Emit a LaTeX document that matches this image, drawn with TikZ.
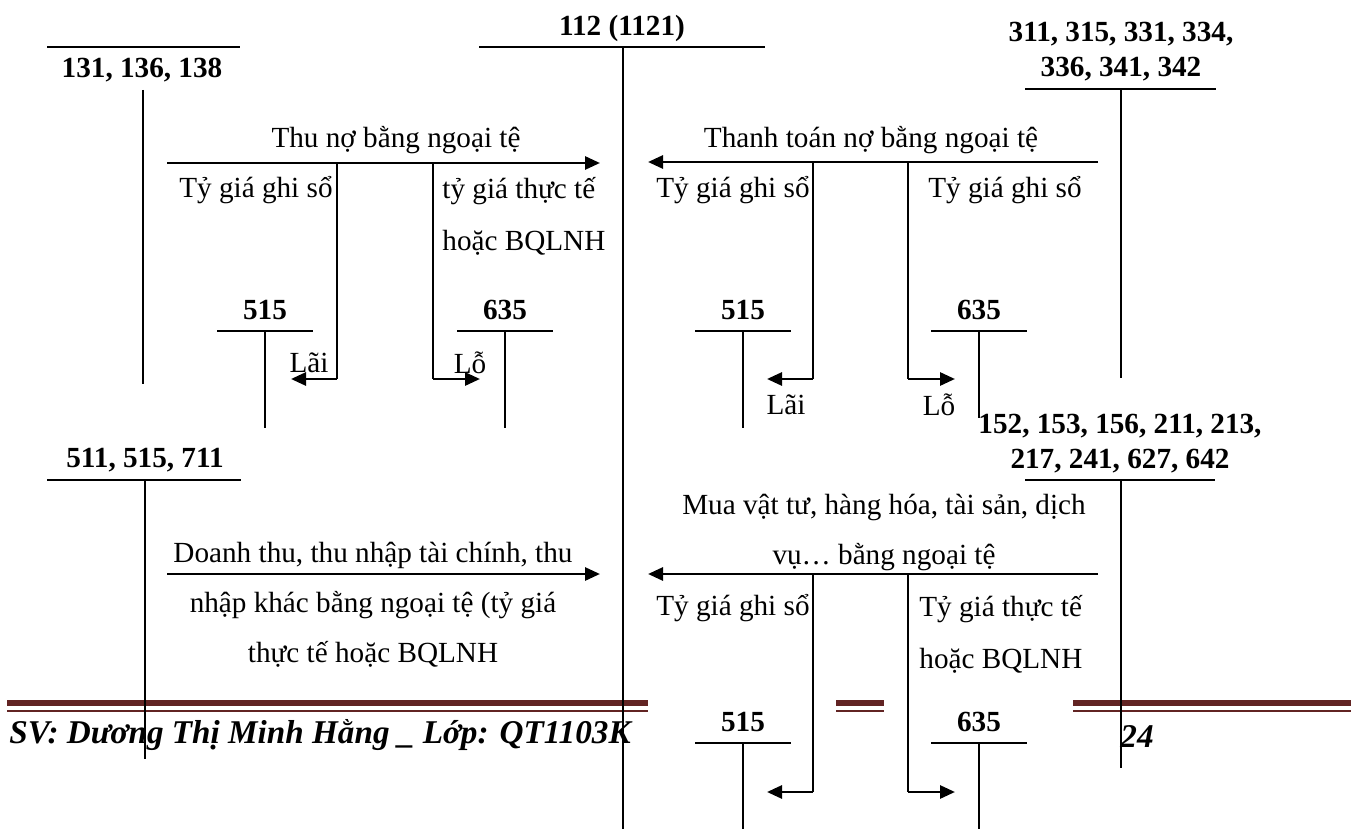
\documentclass[tikz,border=0pt]{standalone}
\usepackage{fontspec}
\setmainfont{Liberation Serif}
\usetikzlibrary{arrows.meta, positioning}
\definecolor{pieoscuro}{HTML}{622423}
\tikzset{
  every picture/.style={x=0.5pt, y=-0.5pt},
  cuenta/.style={font=\fontsize{14.6}{17.5}\selectfont\bfseries, inner sep=0pt, align=center},
  nota/.style={font=\fontsize{14.6}{25}\selectfont, inner sep=0pt, align=center},
  raya/.style={line width=1pt},
  eje/.style={line width=0.75pt},
  flecha/.style={-{Triangle[length=7.5pt, width=6.5pt]}, line width=1.4pt},
  pie/.style={font=\fontsize{16.6}{18}\selectfont\bfseries\itshape, inner sep=0pt},
}

\begin{document}
\begin{tikzpicture}
  \useasboundingbox (0,0) rectangle (1351,829);
  % footer of the page
  \foreach \a/\b in {7/648, 836/884, 1073/1351} {
    \fill[pieoscuro] (\a,700) rectangle (\b,706);
    \draw[pieoscuro, line width=0.8pt] (\a,711) -- (\b,711);
  }
  \node[pie, anchor=west] (sv) at (9,735) {SV: Dương Thị Minh Hằng \_ Lớp: QT1103K};
  \node[pie] (pag) at (1137,737) {24};
  % big accounts
  \node[cuenta] (c112) at (622,28) {112 (1121)};
  \draw[raya] (479,47) -- (765,47);
  \draw[eje] (623,47) -- (623,829);
  \node[cuenta] (c131) at (142,70) {131, 136, 138};
  \draw[raya] (47,47) -- (240,47);
  \draw[eje] (143,90) -- (143,384);
  \node[cuenta] (c311) at (1121,52) {311, 315, 331, 334,\\336, 341, 342};
  \draw[raya] (1025,89) -- (1216,89);
  \draw[eje] (1121,89) -- (1121,378);
  \node[cuenta] (c511) at (145,460) {511, 515, 711};
  \draw[raya] (47,480) -- (241,480);
  \draw[eje] (145,480) -- (145,759);
  \node[cuenta] (c152) at (1120,444) {152, 153, 156, 211, 213,\\217, 241, 627, 642};
  \draw[raya] (1025,480) -- (1215,480);
  \draw[eje] (1121,480) -- (1121,768);
  % small accounts 515 / 635
  \foreach \n/\x/\y/\yb/\lab in {a/265/310/428/515, b/505/310/428/635, c/743/310/428/515,
                                  d/979/310/418/635, e/743/722/829/515, f/979/722/829/635} {
    \node[cuenta] (t\n) at (\x,\y) {\lab};
    \draw[raya] (\x-48,\y+21) -- (\x+48,\y+21);
    \draw[eje] (\x,\y+21) -- (\x,\yb);
  }
  % main arrows
  \coordinate (u1) at (167,163); \coordinate (u2) at (600,163);
  \coordinate (v1) at (1098,162); \coordinate (v2) at (648,162);
  \coordinate (w1) at (167,574); \coordinate (w2) at (600,574);
  \coordinate (z1) at (1098,574); \coordinate (z2) at (648,574);
  \draw[flecha] (u1) -- (u2);
  \draw[flecha] (v1) -- (v2);
  \draw[flecha] (w1) -- (w2);
  \draw[flecha] (z1) -- (z2);
  % differences of exchange rate
  \foreach \n/\xa/\xb/\ya/\yb in {p/337/433/163/379, q/813/908/162/379, r/813/908/574/792} {
    \coordinate (\n a) at (\xa,\yb); \coordinate (\n b) at (\xb,\yb);
    \draw[eje] (\xa,\ya) -- (\n a);
    \draw[flecha] (\n a) -- (\xa-46,\yb);
    \draw[eje] (\xb,\ya) -- (\n b);
    \draw[flecha] (\n b) -- (\xb+47,\yb);
  }
  % texts
  \node[nota] (l1) at (396,140) {Thu nợ bằng ngoại tệ};
  \node[nota, anchor=east] (l2) at (333,190) {Tỷ giá ghi sổ};
  \node[nota, anchor=west, align=left, font=\fontsize{14.6}{26}\selectfont] (l3) at (442,216) {tỷ giá thực tế\\hoặc BQLNH};
  \node[nota] (l4) at (309,363) {Lãi};
  \node[nota] (l5) at (470,363) {Lỗ};
  \node[nota] (r1) at (871,140) {Thanh toán nợ bằng ngoại tệ};
  \node[nota, anchor=east] (r2) at (810,190) {Tỷ giá ghi sổ};
  \node[nota, anchor=west] (r3) at (928,190) {Tỷ giá ghi sổ};
  \node[nota] (r4) at (786,405) {Lãi};
  \node[nota] (r5) at (939,405) {Lỗ};
  \node[nota] (d1) at (373,605) {Doanh thu, thu nhập tài chính, thu\\nhập khác bằng ngoại tệ (tỷ giá\\thực tế hoặc BQLNH};
  \node[nota] (m1) at (884,532) {Mua vật tư, hàng hóa, tài sản, dịch\\vụ… bằng ngoại tệ};
  \node[nota, anchor=east] (m2) at (810,608) {Tỷ giá ghi sổ};
  \node[nota, anchor=west, align=left, font=\fontsize{14.6}{26}\selectfont] (m3) at (919,634) {Tỷ giá thực tế\\hoặc BQLNH};
\end{tikzpicture}
\end{document}
